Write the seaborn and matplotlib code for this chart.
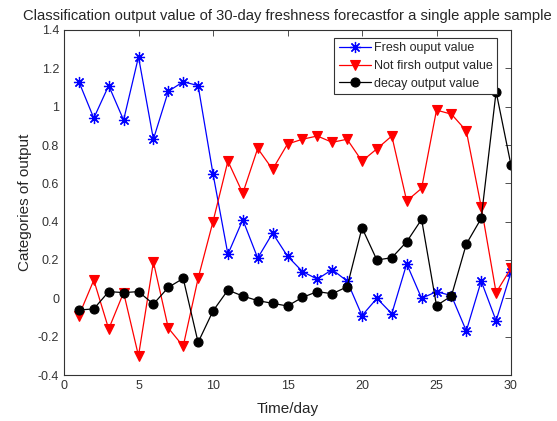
import numpy as np
import pandas as pd
import matplotlib
matplotlib.use("Agg")
import matplotlib.pyplot as plt
import seaborn as sns
from matplotlib.ticker import FuncFormatter

days = list(range(1, 31))
fresh = [1.13, 0.94, 1.11, 0.93, 1.26, 0.83, 1.08, 1.13, 1.11, 0.65,
         0.23, 0.41, 0.21, 0.34, 0.22, 0.14, 0.10, 0.15, 0.09, -0.09,
         0.00, -0.08, 0.18, 0.00, 0.035, 0.014, -0.17, 0.09, -0.117, 0.136]
not_fresh = [-0.09, 0.095, -0.16, 0.03, -0.30, 0.19, -0.155, -0.25, 0.104, 0.40,
             0.716, 0.548, 0.782, 0.673, 0.805, 0.83, 0.847, 0.814, 0.83, 0.716,
             0.78, 0.847, 0.508, 0.574, 0.982, 0.961, 0.874, 0.478, 0.03, 0.157]
decay = [-0.061, -0.055, 0.035, 0.03, 0.035, -0.03, 0.057, 0.104, -0.23, -0.066,
         0.043, 0.012, -0.012, -0.026, -0.04, 0.005, 0.035, 0.024, 0.06, 0.368,
         0.20, 0.212, 0.295, 0.412, -0.038, 0.012, 0.283, 0.417, 1.078, 0.695]
labels = ["Fresh ouput value", "Not firsh output value", "decay output value"]

sns.set_style("white")
plt.rcParams['font.family'] = ['Liberation Sans', 'DejaVu Sans']

fig = plt.figure(figsize=(5.57, 4.21), dpi=100)
ax = fig.add_axes([64/557, 1-375/421, (511-64)/557, (375-30)/421])

series = [(fresh, "#0000ff", (8, 2, 0), 8, 0.9),
          (not_fresh, "#ff0000", "v", 7, 0.8),
          (decay, "#000000", "o", 6.5, 0.8)]
for (vals, col, mk, ms, mew), lab in zip(series, labels):
    sns.lineplot(x=days, y=vals, ax=ax, color=col, marker=mk, markersize=ms,
                 markeredgecolor=col, markerfacecolor=col, markeredgewidth=mew,
                 linewidth=0.9, label=lab)

ax.set_xlim(0, 30)
ax.set_ylim(-0.4, 1.4)
ax.set_xticks(range(0, 31, 5))
ax.set_yticks(np.round(np.arange(-0.4, 1.41, 0.2), 1))
ax.yaxis.set_major_formatter(FuncFormatter(lambda v, p: f"{v:g}"))
ax.tick_params(direction="in", top=True, right=True, length=4, width=0.6,
               labelsize=9, colors="#333333")
for s in ax.spines.values():
    s.set_color("#333333")
    s.set_linewidth(0.8)
ax.set_xlabel("Time/day", fontsize=11, labelpad=7)
ax.set_ylabel("Categories of output", fontsize=11)
ax.set_title("Classification output value of 30-day freshness forecastfor a single apple sample",
             fontsize=10.6, pad=7)

leg = ax.legend(loc="upper right", bbox_to_anchor=(0.968, 0.977), fontsize=9,
                frameon=True, fancybox=False, framealpha=1, edgecolor="#333333",
                handlelength=2.6, borderpad=0.35, labelspacing=0.45, handletextpad=0.2,
                borderaxespad=0)
leg.get_frame().set_linewidth(0.8)

fig.savefig("out.png", dpi=100)
